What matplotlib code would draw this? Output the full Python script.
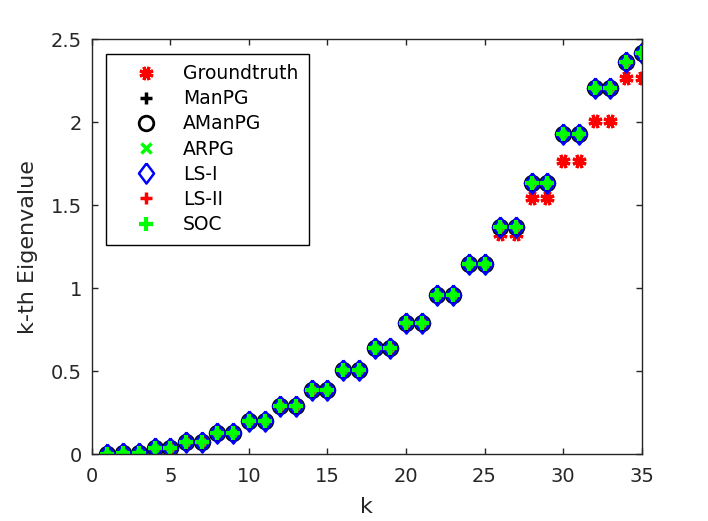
import numpy as np
import matplotlib
matplotlib.use("Agg")
import matplotlib.pyplot as plt

# k-th eigenvalue
k = np.arange(1, 36)
groundtruth = [0.000, 0.009, 0.009, 0.036, 0.036, 0.076, 0.076, 0.127, 0.127, 0.201,
               0.201, 0.288, 0.288, 0.389, 0.389, 0.507, 0.507, 0.639, 0.639, 0.789,
               0.789, 0.958, 0.958, 1.147, 1.147, 1.328, 1.328, 1.541, 1.541, 1.767,
               1.767, 2.009, 2.009, 2.266, 2.268]
estimate = [0.000, 0.009, 0.009, 0.036, 0.036, 0.076, 0.076, 0.127, 0.127, 0.201,
            0.201, 0.288, 0.288, 0.389, 0.389, 0.507, 0.507, 0.639, 0.639, 0.789,
            0.789, 0.958, 0.958, 1.147, 1.147, 1.369, 1.369, 1.636, 1.636, 1.930,
            1.930, 2.205, 2.205, 2.363, 2.419]

manpg = estimate
amanpg = estimate
arpg = estimate
ls1 = estimate
ls2 = estimate
soc = estimate

txt = "#262626"
plt.rcParams["font.family"] = "DejaVu Sans"

fig = plt.figure(figsize=(7.08, 5.21), dpi=100)
ax = fig.add_axes([0.1295, 0.1282, 0.7768, 0.7964])

diamond = [(0, 1), (0.75, 0), (0, -1), (-0.75, 0), (0, 1)]

ax.plot(k, groundtruth, ls="none", marker=(8, 2, 22.5), ms=10, mew=2.2, color="red", label="Groundtruth")
ax.plot(k, manpg, ls="none", marker="+", ms=9, mew=2.5, color="black", label="ManPG")
ax.plot(k, amanpg, ls="none", marker="o", ms=10.5, mew=2, mfc="none", mec="black", label="AManPG")
ax.plot(k, arpg, ls="none", marker="x", ms=7, mew=2.5, color="#00ff00", label="ARPG")
ax.plot(k, ls1, ls="none", marker=diamond, ms=14.5, mew=1.8, mfc="none", mec="blue", label="LS-I")
ax.plot(k, ls2, ls="none", marker="+", ms=9, mew=2.5, color="red", label="LS-II")
ax.plot(k, soc, ls="none", marker="+", ms=9.5, mew=3, color="#00ff00", label="SOC")

ax.set_xlim(0, 35)
ax.set_ylim(0, 2.5)
ax.set_xticks(range(0, 36, 5))
ax.set_yticks([0, 0.5, 1, 1.5, 2, 2.5])
ax.set_yticklabels(["0", "0.5", "1", "1.5", "2", "2.5"])
ax.tick_params(direction="in", top=True, right=True, length=4, width=1,
               labelsize=14, colors=txt, pad=7)
ax.tick_params(axis="x", pad=9)
for s in ax.spines.values():
    s.set_color(txt)
    s.set_linewidth(1)

ax.set_xlabel("k", fontsize=16, color=txt, labelpad=8)
ax.set_ylabel("k-th Eigenvalue", fontsize=16, color=txt, labelpad=9)

leg = ax.legend(loc="upper left", bbox_to_anchor=(0.026, 0.965), borderaxespad=0,
                fontsize=13.5, fancybox=False, framealpha=1, edgecolor="black",
                handlelength=3.14, handletextpad=0.42, labelspacing=0.33,
                borderpad=0.55, numpoints=1)
leg.get_frame().set_linewidth(1)
for t in leg.get_texts():
    t.set_color("black")

fig.savefig("out.png", dpi=100)
